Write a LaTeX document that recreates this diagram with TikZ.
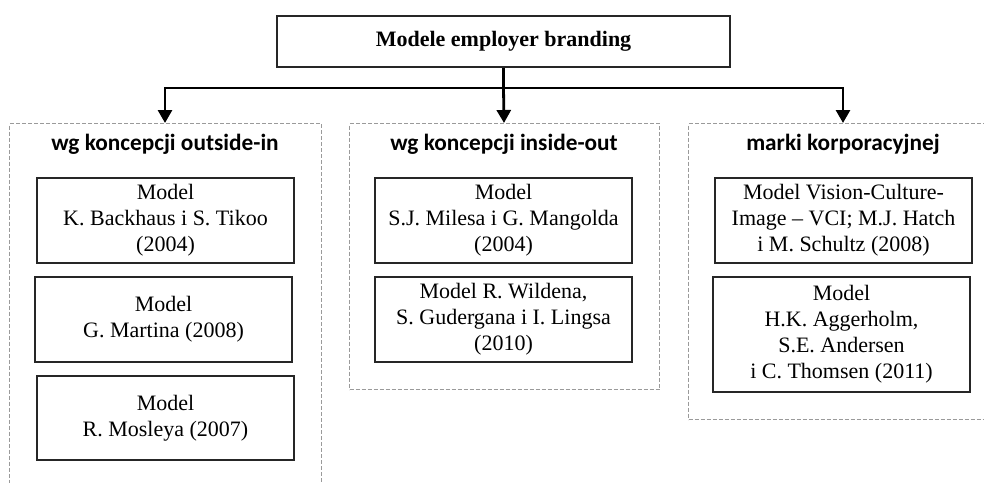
\documentclass[tikz,border=0pt]{standalone}
\usepackage{fontspec}
\setmainfont{Liberation Serif}
\newfontfamily\hdrfont{Carlito}
\usetikzlibrary{arrows.meta}
\definecolor{dashgray}{HTML}{9A9A9A}
\begin{document}
\begin{tikzpicture}[x=1pt,y=-1pt,
  mainbox/.style={draw=black!85, line width=1.4pt, minimum width=453pt, minimum height=51pt,
    inner sep=0pt, font={\fontsize{22}{26}\selectfont\bfseries}},
  group/.style={draw=dashgray, dashed, dash pattern=on 4pt off 2pt, line width=1pt,
    inner sep=0pt, anchor=north west},
  grouphead/.style={font={\hdrfont\fontsize{23.3}{26}\selectfont\bfseries}, inner sep=0pt},
  modelbox/.style={draw=black!85, line width=1.3pt, minimum width=257pt, minimum height=85pt,
    inner sep=0pt, align=center, font={\fontsize{22}{26}\selectfont}},
  conn/.style={line width=2.8pt, black},
  arr/.style={conn, -{Triangle[width=14pt,length=13pt]}}
]
\useasboundingbox (0,0) rectangle (984,482);

% top box
\node[mainbox] (top) at (503.5,41.5) {Modele employer branding};

% dashed groups
\node[group, minimum width=312pt, minimum height=370pt] (g1) at (9,123) {};
\node[group, minimum width=310pt, minimum height=266pt] (g2) at (349,123) {};
\node[group, minimum width=310pt, minimum height=296pt] (g3) at (688,123) {};

% group headings
\node[grouphead] (h1) at (165,144) {wg koncepcji outside-in};
\node[grouphead] (h2) at (504,144) {wg koncepcji inside-out};
\node[grouphead] (h3) at (843,144) {marki korporacyjnej};

% connectors
\coordinate (j) at (top.south |- 0,88);
\draw[conn] (top.south) -- (j);
\draw[arr] (j) -| (h1.north |- g1.north);
\draw[arr] (j) -- (h2.north |- g2.north);
\draw[arr] (j) -| (h3.north |- g3.north);

% models: outside-in
\node[modelbox] (l1) at (165.5,220.5) {Model\\K. Backhaus i S. Tikoo\\(2004)};
\node[modelbox] (l2) at (163.5,319.5) {Model\\G. Martina (2008)};
\node[modelbox, minimum height=84pt] (l3) at (165.5,418) {Model\\R. Mosleya (2007)};

% models: inside-out
\node[modelbox] (m1) at (503.5,220.5) {Model\\S.J. Milesa i G. Mangolda\\(2004)};
\node[modelbox] (m2) at (503.5,319.5) {Model R. Wildena,\\S. Gudergana i I. Lingsa\\(2010)};

% models: corporate brand
\node[modelbox] (r1) at (843.5,220.5) {Model Vision-Culture-\\Image – VCI; M.J. Hatch\\i M. Schultz (2008)};
\node[modelbox, minimum height=115pt] (r2) at (841.5,334.5) {Model\\H.K. Aggerholm,\\S.E. Andersen\\i C. Thomsen (2011)};
\end{tikzpicture}
\end{document}
